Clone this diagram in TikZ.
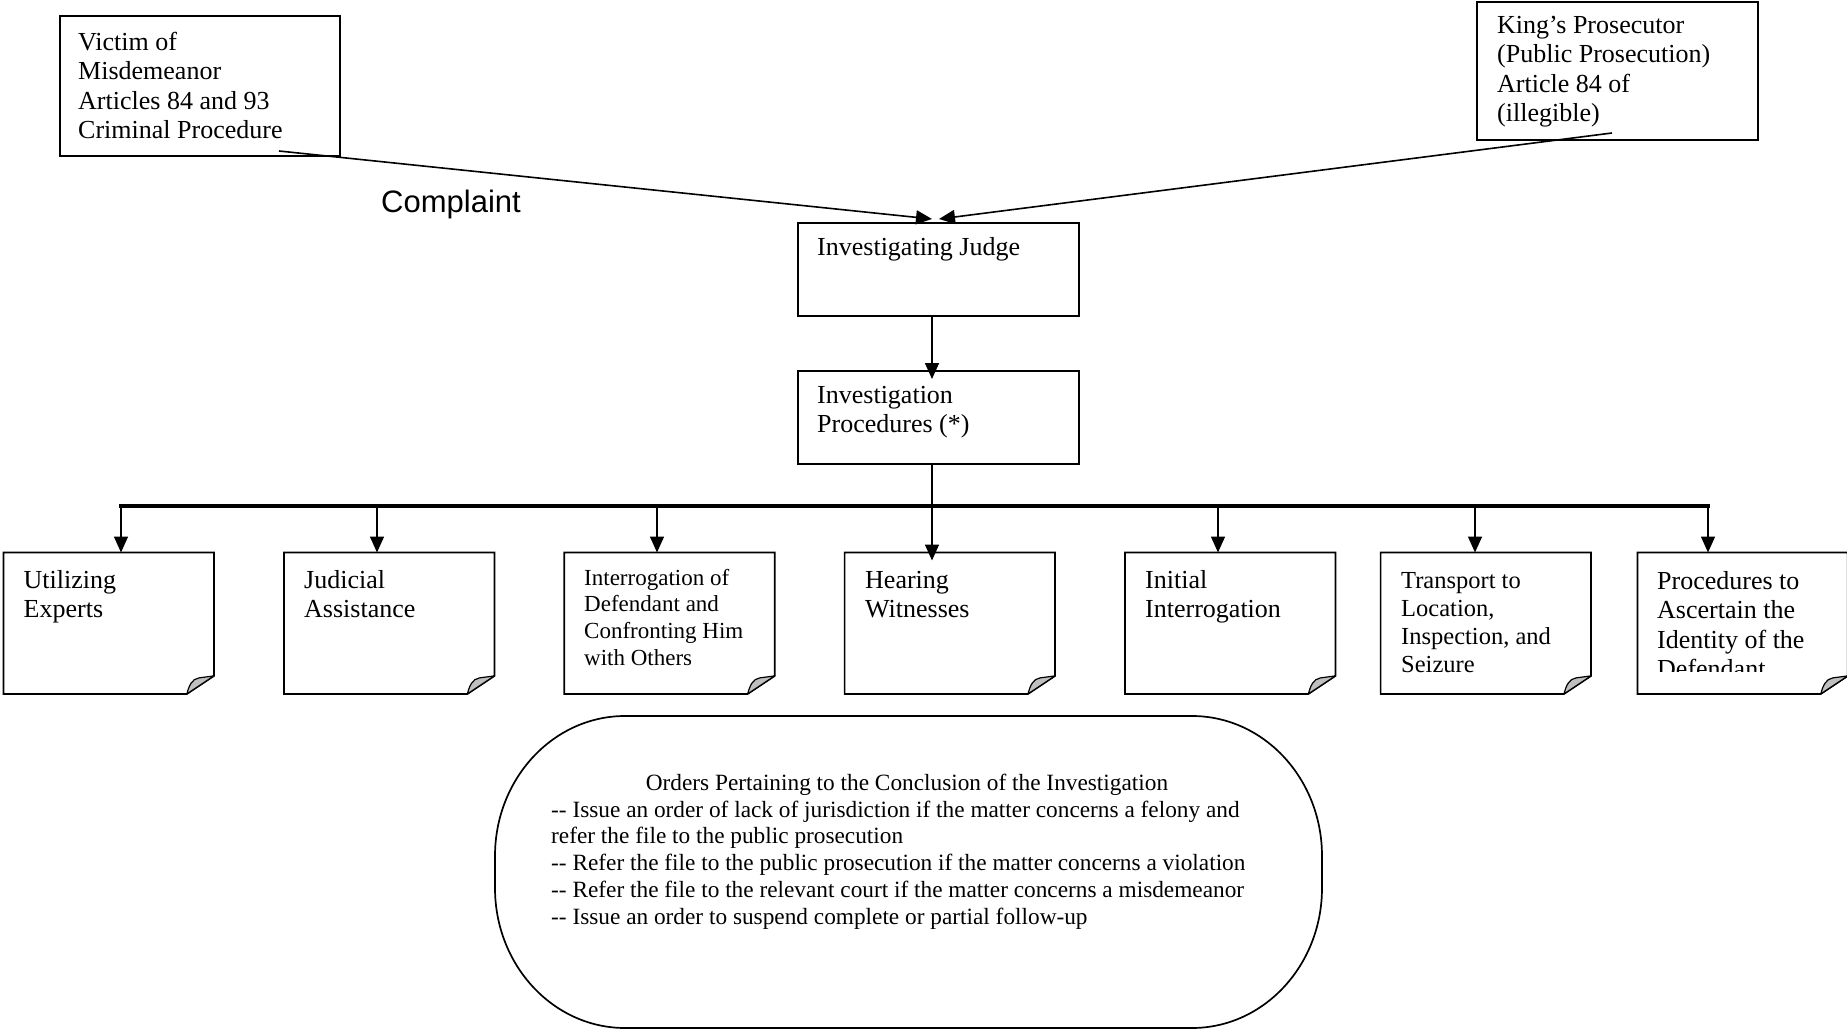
\documentclass[tikz,border=0pt]{standalone}
\usepackage{fontspec}
\setmainfont{Liberation Serif}
\newfontfamily\arialfont{Liberation Sans}
\usetikzlibrary{arrows.meta,calc}
\newcommand\twohyph{\mbox{-}\mbox{-}}

\begin{document}
\begin{tikzpicture}[x=1pt,y=-1pt,
  boxline/.style={line width=1.7pt, line join=miter},
  plainbox/.style={draw, line width=1.7pt, rectangle, inner sep=0pt, anchor=north west},
  notebox/.style={rectangle, inner sep=0pt, anchor=north west, minimum width=210pt, minimum height=141pt},
  flap/.style={fill=black!25, draw, line width=1.2pt, line join=round},
  txtA/.style={inner sep=0pt, anchor=north west, align=left, font=\fontsize{26}{29.5}\selectfont},
  txtB/.style={inner sep=0pt, anchor=north west, align=left, font=\fontsize{23}{26.7}\selectfont},
  txtC/.style={inner sep=0pt, anchor=north west, align=left, font=\fontsize{24.5}{28}\selectfont},
  txtD/.style={inner sep=0pt, anchor=north west, align=left, font=\fontsize{23.3}{26.7}\selectfont},
  link/.style={line width=1.6pt, -{Triangle[length=16pt,width=14pt]}},
  bus/.style={line width=3.4pt, line cap=rect},
]
\useasboundingbox (0,0) rectangle (1847,1032);

% ---------- top row: sources and the judge ----------
\node[plainbox, minimum width=280pt, minimum height=140pt] (victim) at (59,15) {};
\node[txtA] (victimtxt) at (78,{50-20.65}) {\strut Victim of\\Misdemeanor\\Articles 84 and 93\\Criminal Procedure};

\node[plainbox, minimum width=281pt, minimum height=138.5pt] (king) at (1476,0.9) {};
\node[txtA] (kingtxt) at (1497,{33-20.65}) {\strut King’s Prosecutor\\(Public Prosecution)\\Article 84 of\\(illegible)};

\node[plainbox, minimum width=281pt, minimum height=93pt] (judge) at (797,222) {};
\node[txtA] (judgetxt) at (817,{255-20.65}) {\strut Investigating Judge};

\node[plainbox, minimum width=281pt, minimum height=93pt] (proc) at (797,370) {};
\node[txtA] (proctxt) at (817,{403-20.65}) {\strut Investigation\\Procedures (*)};

\node[inner sep=0pt, anchor=base west, font=\arialfont\fontsize{31}{36}\selectfont] (complaint) at (381,213) {Complaint};

% connector ends inside the source boxes and above the judge box
\coordinate (vstart) at (279,151);
\coordinate (vend) at (932,219);
\coordinate (kstart) at (1612,133);
\coordinate (kend) at (939,219);

\draw[link] (vstart) -- (vend);
\draw[link] (kstart) -- (kend);

% ---------- distribution bus ----------
\coordinate (c1) at (121,506);
\coordinate (c2) at (377,506);
\coordinate (c3) at (657,506);
\coordinate (c4) at (932,506);
\coordinate (c5) at (1218,506);
\coordinate (c6) at (1475,506);
\coordinate (c7) at (1708,506);

\draw[link] (c4 |- judge.south) -- ($(c4 |- proc.north)+(0,9)$);
\draw[bus] (c1) -- (c7);

% ---------- procedure notes ----------
\node[notebox] (n1) at (3.5,552.5) {};
\node[notebox] (n2) at (284,552.5) {};
\node[notebox] (n3) at (564.3,552.5) {};
\node[notebox] (n4) at (844.6,552.5) {};
\node[notebox] (n5) at (1125,552.5) {};
\node[notebox] (n6) at (1380.6,552.5) {};
\node[notebox] (n7) at (1637.4,552.5) {};

\foreach \b in {n1,n2,n3,n4,n5,n6,n7} {
  \draw[boxline] ($(\b.south east)+(-27,0)$) -- (\b.south west) -- (\b.north west)
     -- (\b.north east) -- ($(\b.south east)+(0,-18)$) -- cycle;
  \draw[flap] ($(\b.south east)+(-27,0)$)
     .. controls ($(\b.south east)+(-25,-8)$) and ($(\b.south east)+(-22,-15)$) .. ($(\b.south east)+(-15,-16)$)
     -- ($(\b.south east)+(0,-18)$) -- cycle;
}

\node[txtA] (t1) at (23.5,{588-20.65}) {\strut Utilizing\\Experts};
\node[txtA] (t2) at (304,{588-20.65}) {\strut Judicial\\Assistance};
\node[txtB] (t3) at (584,{585-18.69}) {\strut Interrogation of\\Defendant and\\Confronting Him\\with Others};
\node[txtA] (t4) at (865,{588-20.65}) {\strut Hearing\\Witnesses};
\node[txtA] (t5) at (1145,{588-20.65}) {\strut Initial\\Interrogation};
\node[txtC] (t6) at (1401,{588-19.6}) {\strut Transport to\\Location,\\Inspection, and\\Seizure};
\begin{scope}
  \clip (1640,556) rectangle (1845,671);
  \node[txtA] (t7) at (1657,{589-20.65}) {\strut Procedures to\\Ascertain the\\Identity of the\\Defendant};
\end{scope}

\draw[link] (c1) -- (c1 |- n1.north);
\draw[link] (c2) -- (c2 |- n2.north);
\draw[link] (c3) -- (c3 |- n3.north);
\draw[link] (c4 |- proc.south) -- ($(c4 |- n4.north)+(0,8)$);
\draw[link] (c5) -- (c5 |- n5.north);
\draw[link] (c6) -- (c6 |- n6.north);
\draw[link] (c7) -- (c7 |- n7.north);

% ---------- closing orders ----------
\draw[line width=1.7pt] (625,716)
   arc[start angle=270, end angle=180, x radius=130, y radius=140] -- (495,888)
   arc[start angle=180, end angle=90, x radius=130, y radius=140] -- (1192,1028)
   arc[start angle=90, end angle=0, x radius=130, y radius=140] -- (1322,856)
   arc[start angle=0, end angle=-90, x radius=130, y radius=140] -- cycle;

\node[inner sep=0pt, anchor=base, font=\fontsize{23.3}{26.7}\selectfont] (ordtitle) at (907,790) {Orders Pertaining to the Conclusion of the Investigation};
\node[txtD] (ordlist) at (551,{817-18.69}) {\strut\twohyph\ Issue an order of lack of jurisdiction if the matter concerns a felony and\\refer the file to the public prosecution\\\twohyph\ Refer the file to the public prosecution if the matter concerns a violation\\\twohyph\ Refer the file to the relevant court if the matter concerns a misdemeanor\\\twohyph\ Issue an order to suspend complete or partial follow-up};
\end{tikzpicture}
\end{document}
